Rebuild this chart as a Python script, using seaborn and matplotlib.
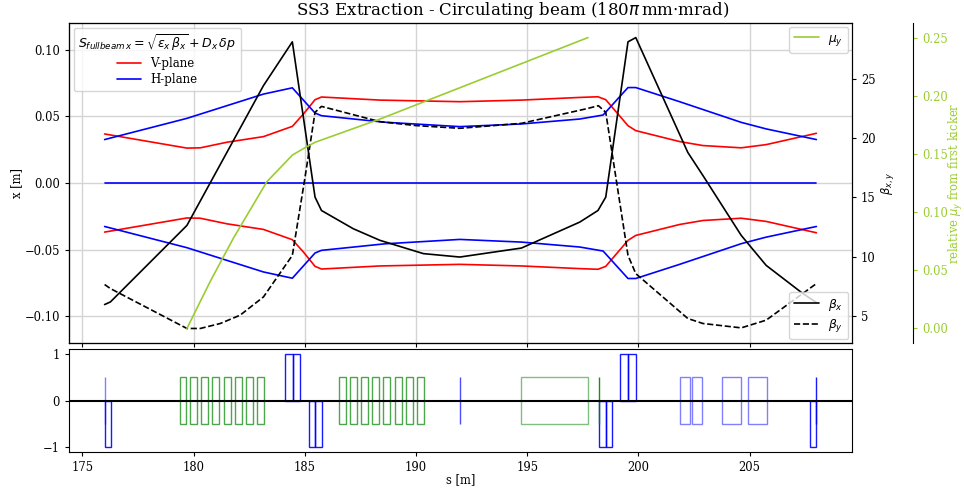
import numpy as np
import pandas as pd
import matplotlib
matplotlib.use("Agg")
import matplotlib.pyplot as plt
from matplotlib.patches import Rectangle
from matplotlib.lines import Line2D
import seaborn as sns

# ---------------- data ----------------
s_bx = [176.00, 176.26, 179.70, 183.14, 184.44, 185.46, 185.75, 187.18, 188.38, 190.33,
        191.97, 194.74, 197.36, 198.18, 198.53, 199.53, 199.88, 202.22, 202.90, 204.62,
        205.74, 207.39, 208.00]
beta_x = [5.96, 6.18, 12.64, 24.44, 28.14, 15.03, 13.90, 12.36, 11.38, 10.26,
          9.97, 10.73, 12.92, 13.90, 15.03, 28.14, 28.50, 18.80, 16.85, 11.80,
          9.27, 6.89, 6.13]

s_by = [176.00, 176.26, 179.70, 180.30, 181.20, 182.09, 183.14, 184.44, 185.00, 185.46,
        185.75, 188.38, 190.00, 191.97, 194.74, 197.73, 198.20, 198.53, 199.53, 199.88,
        202.22, 202.90, 204.62, 205.74, 208.00]
beta_y = [7.65, 7.31, 3.94, 3.94, 4.36, 5.06, 6.60, 10.11, 16.58, 22.19,
          22.69, 21.40, 21.07, 20.84, 21.26, 22.52, 22.75, 22.19, 10.11, 8.57,
          4.78, 4.36, 3.99, 4.64, 7.73]

s_mu = [179.70, 180.75, 181.79, 183.29, 184.44, 184.94, 185.46, 188.38, 197.73]
mu_y = [0.000, 0.0405, 0.0776, 0.126, 0.149, 0.1546, 0.160, 0.180, 0.250]

s_v = [176.00, 179.70, 180.30, 181.50, 183.14, 184.44, 184.94, 185.46, 185.75, 188.38,
       191.97, 194.74, 197.36, 198.18, 198.53, 199.53, 199.88, 201.85, 202.90, 204.62,
       205.74, 208.00]
env_v = [0.0368, 0.0262, 0.0264, 0.0306, 0.0348, 0.0425, 0.0518, 0.0625, 0.0645, 0.0622,
         0.0610, 0.0622, 0.0642, 0.0647, 0.0625, 0.0430, 0.0393, 0.0311, 0.0281, 0.0264,
         0.0288, 0.0373]

s_h = [176.00, 179.70, 183.14, 184.44, 185.46, 185.75, 188.60, 191.97, 194.74, 197.36,
       198.41, 199.53, 199.88, 201.85, 204.62, 205.74, 208.00]
env_h = [0.0326, 0.0485, 0.0667, 0.0714, 0.0525, 0.0505, 0.0456, 0.0423, 0.0443, 0.0480,
         0.0510, 0.0716, 0.0716, 0.0610, 0.0455, 0.0406, 0.0326]

s_orbit = [176.00, 208.00]
x_orbit = [0.0, 0.0]

# lattice elements: start, end, low, high, colour, alpha
el_s0 = [176.01, 184.11, 184.45, 185.21, 185.48, 198.24, 198.52, 199.19, 199.54, 207.71,
         201.89, 202.43, 203.76, 204.91,
         179.37, 179.86, 180.35, 180.85, 181.35, 181.85, 182.35, 182.86,
         186.53, 187.03, 187.53, 188.04, 188.53, 189.04, 189.54, 190.05,
         194.70]
el_s1 = [176.27, 184.45, 184.80, 185.48, 185.76, 198.52, 198.81, 199.54, 199.90, 207.99,
         202.34, 202.86, 204.61, 205.77,
         179.66, 180.15, 180.66, 181.16, 181.66, 182.17, 182.66, 183.17,
         186.84, 187.34, 187.84, 188.35, 188.85, 189.36, 189.85, 190.36,
         197.73]
el_lo = [-1, 0, 0, -1, -1, -1, -1, 0, 0, -1,
         -0.5, -0.5, -0.5, -0.5,
         -0.5, -0.5, -0.5, -0.5, -0.5, -0.5, -0.5, -0.5,
         -0.5, -0.5, -0.5, -0.5, -0.5, -0.5, -0.5, -0.5,
         -0.5]
el_hi = [0, 1, 1, 0, 0, 0, 0, 1, 1, 0,
         0.5, 0.5, 0.5, 0.5,
         0.5, 0.5, 0.5, 0.5, 0.5, 0.5, 0.5, 0.5,
         0.5, 0.5, 0.5, 0.5, 0.5, 0.5, 0.5, 0.5,
         0.5]
el_col = ["blue"] * 14 + ["green"] * 17
el_alpha = [0.9] * 10 + [0.5] * 4 + [0.7] * 16 + [0.5]

thin_s = [176.01, 191.99, 207.99, 198.24]
thin_col = ["blue", "blue", "blue", "green"]
thin_alpha = [0.5, 0.7, 0.9, 0.9]

# ---------------- style ----------------
sns.set_style("ticks")
plt.rcParams["font.family"] = ["DejaVu Serif"]
plt.rcParams["mathtext.fontset"] = "dejavusans"
plt.rcParams["font.size"] = 8.3
plt.rcParams["xtick.labelsize"] = 8.3
plt.rcParams["ytick.labelsize"] = 8.3
plt.rcParams["axes.labelsize"] = 8.3
plt.rcParams["axes.edgecolor"] = "black"
plt.rcParams["xtick.color"] = "black"
plt.rcParams["ytick.color"] = "black"
plt.rcParams["text.color"] = "black"
plt.rcParams["axes.labelcolor"] = "black"
plt.rcParams["xtick.major.size"] = 3
plt.rcParams["ytick.major.size"] = 3

LW = 1.2
fig = plt.figure(figsize=(9.64, 4.88), dpi=100)
ax1 = fig.add_axes([0.0716, 0.2971, 0.8122, 0.6557])
ax2 = fig.add_axes([0.0716, 0.0738, 0.8122, 0.2110], sharex=ax1)

ygreen = "yellowgreen"

# envelopes
df_v = pd.DataFrame({"s": s_v, "env": env_v})
df_h = pd.DataFrame({"s": s_h, "env": env_h})
sns.lineplot(x=df_v["s"], y=df_v["env"], ax=ax1, color="red", lw=LW, estimator=None, sort=False)
sns.lineplot(x=df_v["s"], y=-df_v["env"], ax=ax1, color="red", lw=LW, estimator=None, sort=False)
sns.lineplot(x=df_h["s"], y=df_h["env"], ax=ax1, color="blue", lw=LW, estimator=None, sort=False)
sns.lineplot(x=df_h["s"], y=-df_h["env"], ax=ax1, color="blue", lw=LW, estimator=None, sort=False)
sns.lineplot(x=s_orbit, y=x_orbit, ax=ax1, color="blue", lw=LW, estimator=None, sort=False)
ax1.set_ylim(-0.12, 0.12)
ax1.set_ylabel("x [m]")
ax1.yaxis.set_label_coords(-0.058, 0.5)
ax1.grid(True, color="#d4d4d4", lw=1.0)
ax1.set_axisbelow(True)
ax1.tick_params(labelbottom=False)
ax1.set_xlabel("")
ax1.set_title("SS3 Extraction - Circulating beam (180$\\pi\\,$mm$\\cdot$mrad)", fontsize=12, x=0.566)
ax1.legend(handles=[Line2D([], [], color="red", lw=LW), Line2D([], [], color="blue", lw=LW)],
           labels=["V-plane", "H-plane"], loc="upper left",
           title=r"$S_{fullbeam\,x} = \sqrt{\varepsilon_x\,\beta_x} + D_x\,\delta p$",
           title_fontsize=9.0, fontsize=8.5, borderaxespad=0.4,
           handlelength=2.0, labelspacing=0.3)

# beta axis
axb = ax1.twinx()
sns.lineplot(x=s_bx, y=beta_x, ax=axb, color="black", lw=LW, estimator=None, sort=False)
sns.lineplot(x=s_by, y=beta_y, ax=axb, color="black", lw=LW, ls="--", estimator=None, sort=False)
axb.set_ylabel(r"$\beta_{x,y}$")
axb.yaxis.set_label_coords(1.034, 0.5)
axb.grid(False)
axb.legend(handles=[Line2D([], [], color="black", lw=LW), Line2D([], [], color="black", lw=LW, ls="--")],
           labels=[r"$\beta_x$", r"$\beta_y$"], loc="lower right", fontsize=8.8,
           borderaxespad=0.3, labelspacing=0.4)

# mu axis
axm = ax1.twinx()
axm.spines["right"].set_position(("axes", 1.078))
sns.lineplot(x=s_mu, y=mu_y, ax=axm, color=ygreen, lw=LW, estimator=None, sort=False)
axm.set_ylabel(r"relative $\mu_y$ from first kicker", color=ygreen)
axm.yaxis.set_label_coords(1.121, 0.5)
axm.tick_params(axis="y", colors=ygreen)
axm.grid(False)
axm.legend(handles=[Line2D([], [], color=ygreen, lw=LW)], labels=[r"$\mu_y$"],
           loc="upper right", fontsize=8.8, borderaxespad=0.3)

# lattice
for a, b, lo, hi, c, al in zip(el_s0, el_s1, el_lo, el_hi, el_col, el_alpha):
    ax2.add_patch(Rectangle((a, lo), b - a, hi - lo, fill=False, edgecolor=c, alpha=al, lw=1.0))
for xs, c, al in zip(thin_s, thin_col, thin_alpha):
    ax2.vlines(xs, -0.5, 0.5, color=c, alpha=al, lw=1.0)
ax2.axhline(0, color="black", lw=1.5)
ax2.set_ylim(-1.1, 1.1)
ax2.set_xlim(174.4, 209.6)
ax2.set_yticks([-1, 0, 1])
ax2.set_xlabel("s [m]")
ax2.xaxis.set_label_coords(0.5, -0.21)
ax2.set_ylabel("")

fig.savefig("out.png", dpi=100)
